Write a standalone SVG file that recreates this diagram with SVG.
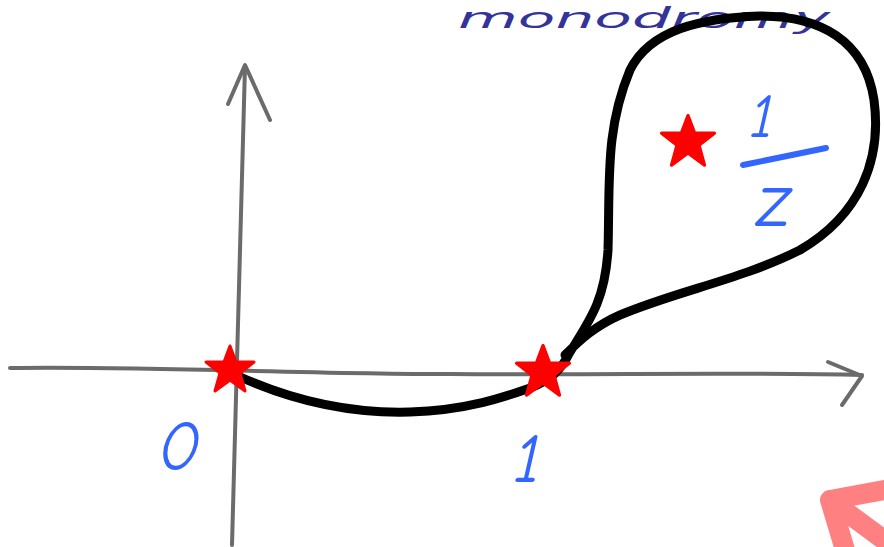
<svg xmlns="http://www.w3.org/2000/svg" width="884" height="547" viewBox="0 0 884 547">
<style>
.axis{fill:none;stroke:#6b6b6b;stroke-width:4;stroke-linecap:round;stroke-linejoin:round}
.curve{fill:none;stroke:#000;stroke-width:9;stroke-linecap:round;stroke-linejoin:round}
.star{fill:#ff0000;stroke:#ff0000;stroke-width:3;stroke-linejoin:round}
.lbl{fill:#3366ff;font-family:"Comic Neue","DejaVu Sans","Liberation Sans",sans-serif;font-style:italic}
.bar{stroke:#3366ff;stroke-width:6;stroke-linecap:round}
.title{fill:#333399;font-family:"DejaVu Sans","Liberation Sans",sans-serif;font-style:italic}
</style>
<defs>
<polygon id="star" points="0,-24 6,-8 24,-8 10,3 15,21 0,10 -15,21 -10,3 -24,-8 -6,-8"/>
</defs>
<rect width="884" height="547" fill="#fff"/>
<g id="title"><text class="title" x="458" y="28" font-size="29" textLength="372" lengthAdjust="spacingAndGlyphs">monodromy</text></g>
<g id="axes">
<path class="axis" d="M10,368 C150,366 300,374 450,374 C600,375 750,372 862,375"/>
<path class="axis" d="M828,362 L862,376 L842,405"/>
<path class="axis" d="M232,545 C235,400 240,250 245,66"/>
<path class="axis" d="M228,104 L245,65 L270,120"/>
</g>
<g id="connectors">
<path class="curve" d="M238,376 C280,395 340,414 410,412 C470,410 510,395 530,388 C550,380 560,372 570,352 C590,320 605,300 608,250 C610,180 605,130 630,70 C650,30 700,18 760,16 C820,16 865,40 874,100 C882,160 860,215 800,250 C740,280 680,290 620,315 C595,326 580,340 565,355"/>
</g>
<g id="node-0"><use href="#star" class="star" transform="translate(230,370)"/><text class="lbl" x="158" y="470" font-size="70">0</text></g>
<g id="node-1"><use href="#star" class="star" transform="translate(543,372) scale(1.1)"/><text class="lbl" x="514" y="482" font-size="70">1</text></g>
<g id="node-inv"><use href="#star" class="star" transform="translate(688,142) scale(1.1)"/>
<text class="lbl" x="750" y="137" font-size="62">1</text>
<line class="bar" x1="743" y1="165" x2="826" y2="148"/>
<text class="lbl" x="758" y="226" font-size="78">z</text></g>
<g id="pink-arrow"><path d="M884,540 L830,500 M830,500 L884,490 M830,500 L848,560" fill="none" stroke="#ff8080" stroke-width="20" stroke-linecap="round" stroke-linejoin="round"/></g>
</svg>
